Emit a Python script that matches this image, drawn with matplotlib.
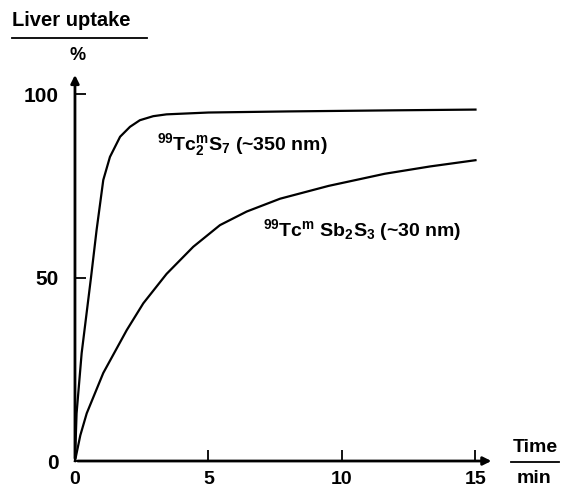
import matplotlib
matplotlib.use("Agg")
import matplotlib.pyplot as plt

plt.rcParams['font.family'] = ['Liberation Sans', 'DejaVu Sans']
plt.rcParams['font.weight'] = 'bold'
plt.rcParams['mathtext.fontset'] = 'custom'
plt.rcParams['mathtext.rm'] = 'Liberation Sans:bold'
plt.rcParams['mathtext.it'] = 'Liberation Sans:bold'
plt.rcParams['mathtext.bf'] = 'Liberation Sans:bold'

# 99Tcm2S7 (~350 nm) - fast uptake
time_s7 = [0, 0.06, 0.25, 0.6, 0.81, 1.06, 1.31, 1.69, 2.06, 2.43, 2.93, 3.43, 5, 8, 12, 15]
uptake_s7 = [0, 13, 29.4, 50, 63, 76.6, 82.9, 88.4, 91.1, 92.9, 94, 94.5, 95, 95.3, 95.6, 95.8]

# 99Tcm Sb2S3 (~30 nm) - slow uptake
time_sb = [0, 0.2, 0.44, 1.06, 1.94, 2.56, 3.43, 4.43, 5.43, 6.43, 7.68, 9.5, 11.6, 13.3, 15]
uptake_sb = [0, 7, 13, 24, 35.7, 43, 51, 58.4, 64.3, 68, 71.5, 75, 78.3, 80.3, 82]

x_ticks = [0, 5, 10, 15]
y_ticks = [0, 50, 100]

fig = plt.figure(figsize=(5.65, 4.93), dpi=100)
ax = fig.add_axes([0.1327, 0.0649, 0.7325, 0.785])
ax.set_xlim(0, 15.5)
ax.set_ylim(0, 105.5)

ax.plot(time_s7, uptake_s7, color='black', lw=1.6, clip_on=False, solid_joinstyle='round')
ax.plot(time_sb, uptake_sb, color='black', lw=1.6, clip_on=False, solid_joinstyle='round')

# axes drawn as arrows, no box
for s in ax.spines.values():
    s.set_visible(False)
ax.annotate('', xy=(15.7, 0), xytext=(0, 0), xycoords='data',
            arrowprops=dict(arrowstyle='-|>', color='black', lw=2, mutation_scale=12),
            annotation_clip=False)
ax.annotate('', xy=(0, 106), xytext=(0, 0), xycoords='data',
            arrowprops=dict(arrowstyle='-|>', color='black', lw=2, mutation_scale=12),
            annotation_clip=False)

ax.set_xticks(x_ticks)
ax.set_yticks(y_ticks)
ax.set_xticklabels([str(t) for t in x_ticks])
ax.set_yticklabels([str(t) for t in y_ticks])
ax.tick_params(axis='x', direction='in', length=8, width=1.3, labelsize=14, pad=7)
ax.tick_params(axis='y', direction='in', length=8, width=1.3, labelsize=15, pad=12)

ax.text(0.278, 0.706, r'$^{99}$Tc$^{m}_{2}$S$_{7}$ (~350 nm)', transform=fig.transFigure,
        fontsize=14, ha='left', va='center')
ax.text(0.465, 0.533, r'$^{99}$Tc$^{m}$ Sb$_{2}$S$_{3}$ (~30 nm)', transform=fig.transFigure,
        fontsize=14, ha='left', va='center')

# y axis title with fraction bar
fig.text(0.021, 0.958, 'Liver uptake', fontsize=14.5, ha='left', va='center')
fig.add_artist(plt.Line2D([0.021, 0.26], [0.923, 0.923], color='black', lw=1.3))
fig.text(0.138, 0.888, '%', fontsize=13, ha='center', va='center')

# x axis title
fig.text(0.947, 0.093, 'Time', fontsize=14, ha='center', va='center')
fig.add_artist(plt.Line2D([0.905, 0.99], [0.062, 0.062], color='black', lw=1.3))
fig.text(0.945, 0.03, 'min', fontsize=14, ha='center', va='center')

fig.savefig('out.png', dpi=100)
